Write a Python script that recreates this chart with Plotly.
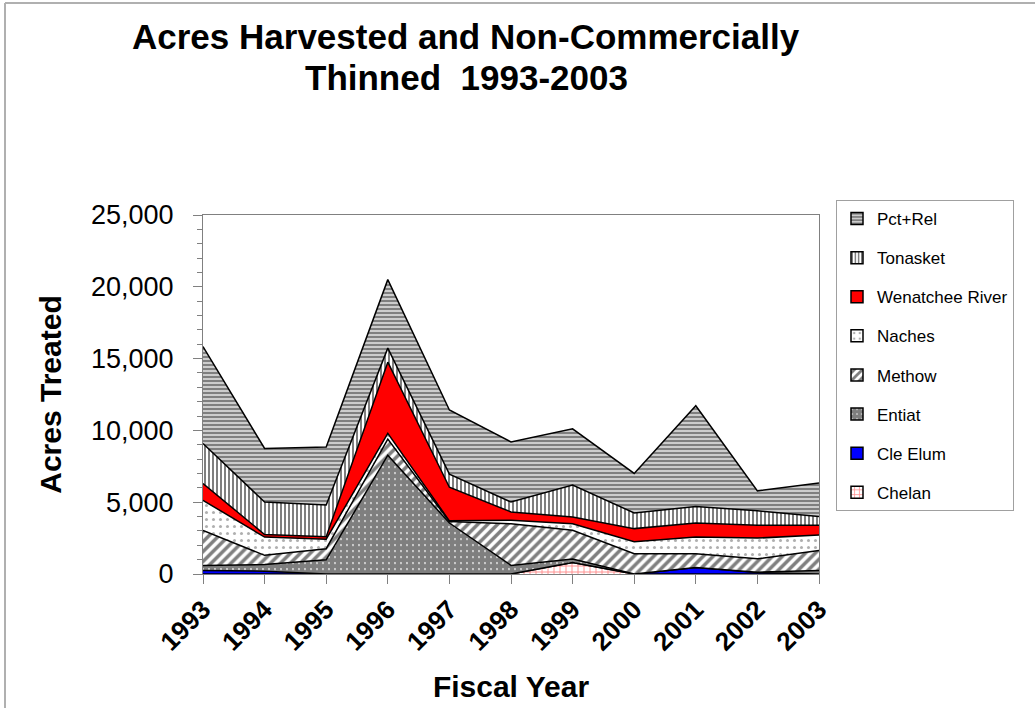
import plotly.graph_objects as go

years = [1993, 1994, 1995, 1996, 1997, 1998, 1999, 2000, 2001, 2002, 2003]
year_labels = [str(y) for y in years]

# Stacked series, bottom to top (acres treated)
chelan     = [0,    0,    0,    0,    0,    0,    800,  0,    0,    0,    0]
cle_elum   = [250,  200,  0,    0,    0,    0,    0,    0,    450,  100,  0]
entiat     = [350,  460,  990,  8275, 3550, 600,  250,  0,    0,    30,   250]
methow     = [2440, 640,  770,  1125, 100,  2900, 1990, 1410, 960,  930,  1390]
naches     = [2090, 1270, 660,  390,  50,   240,  460,  840,  1160, 1440, 1070]
wenatchee  = [1170, 180,  180,  4960, 2340, 580,  470,  910,  980,  900,  680]
tonasket   = [2790, 2260, 2200, 980,  910,  690,  2230, 1090, 1150, 1000, 610]
pct_rel    = [6750, 3730, 4050, 4770, 4470, 4190, 3910, 2750, 7020, 1390, 2340]

series_names = ["Chelan", "Cle Elum", "Entiat", "Methow", "Naches",
                "Wenatchee River", "Tonasket", "Pct+Rel"]
series_values = [chelan, cle_elum, entiat, methow, naches, wenatchee, tonasket, pct_rel]

styles = {
    "Chelan":          dict(fillcolor="white", fillpattern=dict(shape="+", fgcolor="#FF2020", bgcolor="white", size=6, solidity=0.3)),
    "Cle Elum":        dict(fillcolor="#0000FF", fillpattern=None),
    "Entiat":          dict(fillcolor="white", fillpattern=dict(shape=".", fgcolor="black", bgcolor="white", size=6, solidity=0.85)),
    "Methow":          dict(fillcolor="white", fillpattern=dict(shape="/", fgcolor="black", bgcolor="white", size=7, solidity=0.5)),
    "Naches":          dict(fillcolor="white", fillpattern=dict(shape=".", fgcolor="#606060", bgcolor="white", size=7, solidity=0.15)),
    "Wenatchee River": dict(fillcolor="#FF0000", fillpattern=None),
    "Tonasket":        dict(fillcolor="white", fillpattern=dict(shape="|", fgcolor="black", bgcolor="white", size=4, solidity=0.5)),
    "Pct+Rel":         dict(fillcolor="white", fillpattern=dict(shape="-", fgcolor="black", bgcolor="white", size=4, solidity=0.7)),
}

fig = go.Figure()
for name, vals in zip(series_names, series_values):
    st = styles[name]
    kw = dict(x=years, y=vals, name=name, mode="lines", stackgroup="one",
              line=dict(color="black", width=1.5), fillcolor=st["fillcolor"],
              showlegend=False, hoverinfo="x+y+name")
    if st["fillpattern"] is not None:
        kw["fillpattern"] = st["fillpattern"]
    fig.add_trace(go.Scatter(**kw))

# legend entries with square swatches (top series listed first, as in the original)
for name in reversed(series_names):
    st = styles[name]
    marker = dict(color=st["fillcolor"], line=dict(color="black", width=1.5))
    if st["fillpattern"] is not None:
        marker["pattern"] = st["fillpattern"]
    fig.add_trace(go.Bar(x=[None], y=[None], name=name, marker=marker,
                         legendgroup=name, showlegend=True))

L, R, T, B = 203, 819, 215, 574
W, H = 1035, 708

def px(xp):
    return (xp - L) / (R - L)

def py(yp):
    return (B - yp) / (B - T)

title_lines = ["Acres Harvested and Non-Commercially", "Thinned  1993-2003"]
title_y = [37, 77]

annotations = [
    dict(text="<b>%s</b>" % t, x=px(466), y=py(yy), xref="paper", yref="paper",
         xanchor="center", yanchor="middle", showarrow=False,
         font=dict(size=35, family="Liberation Sans, Arial", color="black"))
    for t, yy in zip(title_lines, title_y)
]

fig.update_layout(
    width=W, height=H,
    margin=dict(l=L, r=W - R, t=T, b=H - B, pad=0, autoexpand=False),
    paper_bgcolor="white", plot_bgcolor="white",
    font=dict(family="Liberation Sans, Arial", color="black"),
    showlegend=True,
    annotations=annotations,
    legend=dict(x=px(836), y=py(200), xanchor="left", yanchor="top",
                bordercolor="#A0A0A0", borderwidth=1, bgcolor="white",
                font=dict(size=17, family="Liberation Sans, Arial"),
                traceorder="grouped", tracegroupgap=14,
                itemwidth=30),
    xaxis=dict(range=[1993, 2003], tickmode="array", tickvals=years,
               ticktext=["<b>%s</b>" % s for s in year_labels],
               tickangle=-45, tickfont=dict(size=26, family="Liberation Sans, Arial"),
               ticks="outside", ticklen=9, tickcolor="#808080", automargin=False,
               showline=True, linecolor="#808080", mirror=True, showgrid=False, zeroline=False,
               title=dict(text="<b>Fiscal Year</b>", font=dict(size=30), standoff=20)),
    yaxis=dict(range=[0, 25000], dtick=5000, tickformat=",",
               tickfont=dict(size=27, family="Liberation Sans, Arial"),
               ticks="outside", ticklen=9, tickcolor="#808080", automargin=False,
               minor=dict(dtick=1000, ticks="outside", ticklen=5, tickcolor="#808080"),
               showline=True, linecolor="#808080", mirror=True, showgrid=False, zeroline=False,
               ticklabelstandoff=14,
               title=dict(text="<b>Acres Treated</b>", font=dict(size=30), standoff=20)),
    shapes=[
        dict(type="line", xref="paper", yref="paper", x0=px(5), x1=px(1035), y0=py(3), y1=py(3),
             line=dict(color="#B0B0B0", width=2)),
        dict(type="line", xref="paper", yref="paper", x0=px(5), x1=px(5), y0=py(3), y1=py(708),
             line=dict(color="#B0B0B0", width=2)),
    ],
)

fig.write_html("out.html")
